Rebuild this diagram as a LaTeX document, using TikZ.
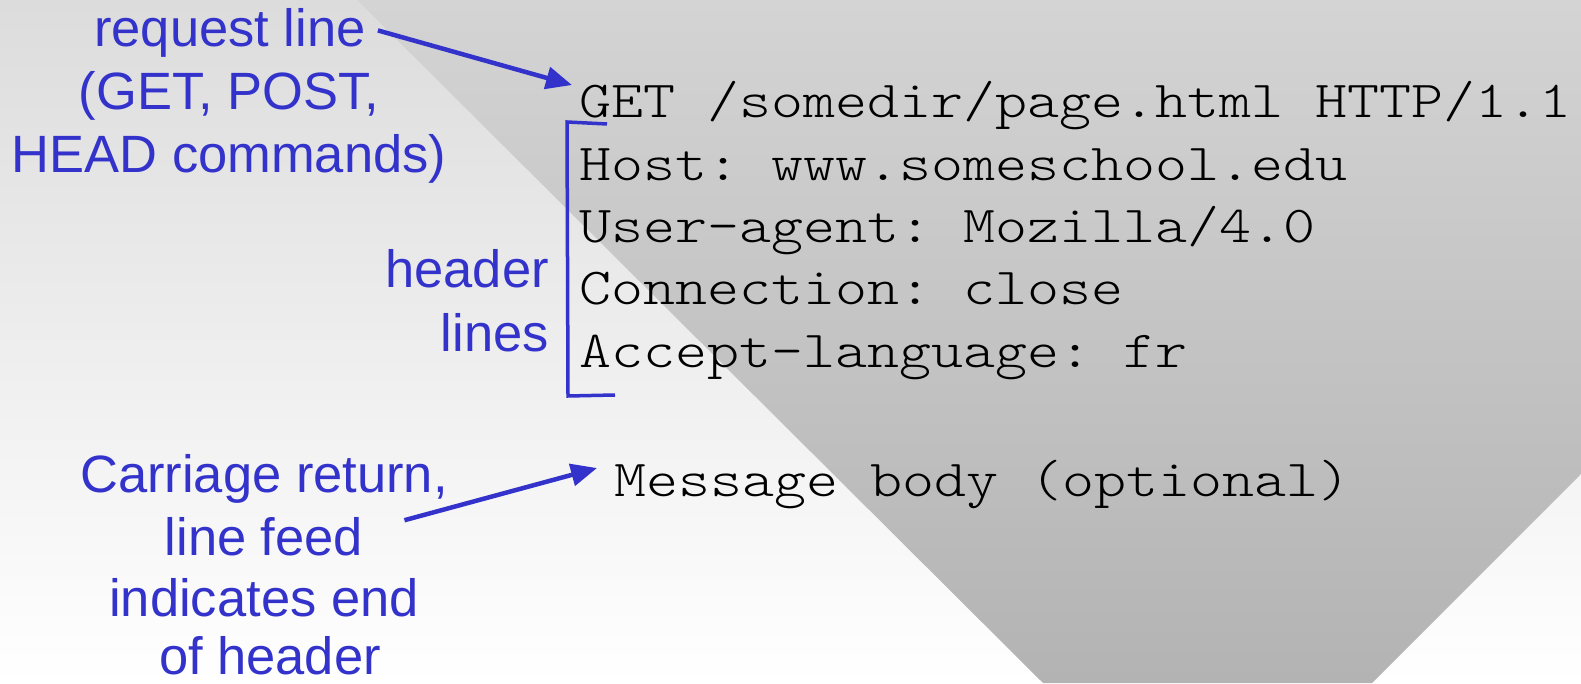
\documentclass[tikz,border=0pt]{standalone}
\usepackage{fontspec}
\setmainfont{Liberation Sans}
\setmonofont{Latin Modern Mono Light}[FakeStretch=1.172]
\usepackage{tikz}
\usetikzlibrary{arrows.meta,calc}
\definecolor{labelblue}{RGB}{51,51,204}
\definecolor{bgtop}{RGB}{220,220,220}
\definecolor{wedgetop}{RGB}{212,212,212}
\definecolor{wedgebottom}{RGB}{179,179,179}
\tikzset{
  bluetext/.style={labelblue, inner sep=0pt, anchor=base, font=\fontsize{52.5}{63}\selectfont},
  codetext/.style={black, inner sep=0pt, anchor=base west, font=\ttfamily\fontsize{52}{63}\selectfont},
  pointer/.style={labelblue, line width=4.5pt, -{Triangle[length=26pt,width=22pt]}}
}
\begin{document}
\begin{tikzpicture}[x=1pt,y=1pt]
        \useasboundingbox (0,0) rectangle (1581,683);
        % Hintergrund
            \shade[top color=bgtop, bottom color=white] (0,0) rectangle (1581,683);
            \shade[top color=wedgetop, bottom color=wedgebottom] (357,683) -- (1043,0) -- (1372,0) -- (1581,209) -- (1581,683) -- cycle;

        % Beschriftungen links
            \node[bluetext] (req1) at (230,636) {request line};
            \node[bluetext] (req2) at (229,573) {(GET, POST,};
            \node[bluetext] (req3) at (229,510) {HEAD commands)};
            \node[bluetext, anchor=base east] (hdr1) at (549,395) {header};
            \node[bluetext, anchor=base east] (hdr2) at (549,331) {lines};
            \node[bluetext] (crlf1) at (264,190) {Carriage return,};
            \node[bluetext] (crlf2) at (264,128) {line feed};
            \node[bluetext] (crlf3) at (264,67) {indicates end};
            \node[bluetext] (crlf4) at (270,9) {of header};

        % Nachricht
            \node[codetext] (reqline) at (579,565) {GET /somedir/page.html HTTP/1.1};
            \node[codetext] (host) at (579,502) {Host: www.someschool.edu};
            \node[codetext] (agent) at (579,440) {User-agent: Mozilla/4.0};
            \node[codetext] (conn) at (579,378) {Connection: close};
            \node[codetext] (lang) at (579,315) {Accept-language: fr};
            \node[codetext] (body) at (614,186) {Message body (optional)};

        % Klammer
            \draw[labelblue, line width=3.5pt] (607,559) -- (567,561) -- (568,287) -- (615,288);

        % Pfeile
            \draw[pointer] ([shift={(12pt,3pt)}]req1.east) -- ([shift={(-7pt,21pt)}]reqline.west);
            \draw[pointer] ([shift={(41pt,16pt)}]crlf2.east) -- ([shift={(-17pt,17pt)}]body.west);
    \end{tikzpicture}
\end{document}
